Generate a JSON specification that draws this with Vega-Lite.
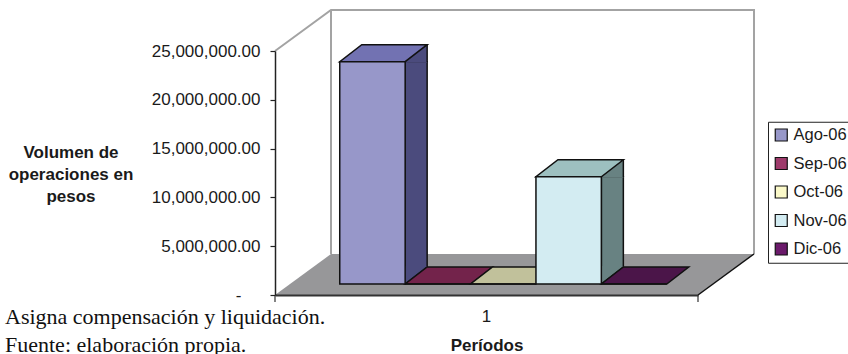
{
  "$schema": "https://vega.github.io/schema/vega-lite/v6.json",
  "width": 423,
  "height": 244,
  "autosize": {"type": "none"},
  "padding": {"left": 275, "top": 51, "right": 150, "bottom": 59},
  "config": {"font": "Liberation Sans", "view": {"stroke": null}},
  "title": {
    "text": ["Asigna compensación y liquidación.", "Fuente: elaboración propia."],
    "orient": "bottom",
    "anchor": "start",
    "frame": "group",
    "font": "Liberation Serif",
    "fontSize": 22,
    "fontWeight": "normal",
    "color": "#111111",
    "lineHeight": 28,
    "baseline": "top",
    "dx": -270,
    "dy": -46,
    "offset": 0
  },
  "data": {
    "values": [
      {"periodo": "1", "mes": "Ago-06", "volumen": 22780000},
      {"periodo": "1", "mes": "Sep-06", "volumen": 0},
      {"periodo": "1", "mes": "Oct-06", "volumen": 0},
      {"periodo": "1", "mes": "Nov-06", "volumen": 10990000},
      {"periodo": "1", "mes": "Dic-06", "volumen": 0}
    ]
  },
  "encoding": {
    "x": {
      "field": "periodo",
      "type": "nominal",
      "title": "Períodos",
      "scale": {"paddingInner": 0, "paddingOuter": 0},
      "axis": {
        "labelAngle": 0,
        "ticks": false,
        "tickSize": 0,
        "domainColor": "#333333",
        "domainWidth": 2,
        "labelFontSize": 17,
        "labelColor": "#1a1a1a",
        "labelPadding": 13,
        "titleFontSize": 17,
        "titleFontWeight": "bold",
        "titleColor": "#1a1a1a",
        "titlePadding": 13,
        "zindex": 1
      }
    },
    "y": {
      "field": "volumen",
      "type": "quantitative",
      "scale": {"domain": [0, 25000000], "nice": false},
      "axis": {
        "values": [0, 5000000, 10000000, 15000000, 20000000, 25000000],
        "labelExpr": "datum.value == 0 ? '-' : format(datum.value, ',.2f')",
        "labelPadding": {"condition": {"test": "datum.value == 0", "value": 29}, "value": 10},
        "grid": false,
        "domainColor": "#222222",
        "domainWidth": 1.5,
        "tickColor": "#222222",
        "tickSize": 5,
        "tickWidth": 1.2,
        "labelFontSize": 17,
        "labelColor": "#1a1a1a",
        "title": ["Volumen de", "operaciones en", "pesos"],
        "titleAngle": 0,
        "titleAlign": "center",
        "titleBaseline": "middle",
        "titleX": -204.5,
        "titleY": 101,
        "titleFontSize": 17,
        "titleFontWeight": "bold",
        "titleLineHeight": 22,
        "titleColor": "#1a1a1a",
        "zindex": 1
      }
    }
  },
  "layer": [
    {
      "transform": [{"filter": "datum.mes == 'Oct-06'"}],
      "encoding": {
        "xOffset": {
          "field": "mes",
          "type": "nominal",
          "scale": {"domain": ["Ago-06", "Sep-06", "Oct-06", "Nov-06", "Dic-06"], "range": [64.75, 391.75], "paddingInner": 0, "paddingOuter": 0}
        }
      },
      "layer": [
        {
          "mark": {"type": "point", "shape": "M-228.25,0L-172.25,-41L250.75,-41L250.75,203M-172.25,-41L-172.25,203", "size": 4, "filled": false, "opacity": 1, "stroke": "#a3a3a3", "strokeWidth": 2},
          "encoding": {"y": {"datum": 25000000}}
        },
        {
          "mark": {"type": "point", "shape": "M-228.25,0L194.75,0L250.75,-41L-172.25,-41Z", "size": 4, "filled": true, "opacity": 1, "fill": "#979799", "strokeWidth": 0},
          "encoding": {"y": {"datum": 0}}
        },
        {
          "mark": {"type": "point", "shape": "M194.75,0L250.75,-41", "size": 4, "filled": false, "opacity": 1, "stroke": "#111111", "strokeWidth": 1.5},
          "encoding": {"y": {"datum": 0}}
        },
        {
          "mark": {"type": "point", "shape": "M-228.25,0L-228.25,7M194.75,0L194.75,7", "size": 4, "filled": false, "opacity": 1, "stroke": "#333333", "strokeWidth": 1.2},
          "encoding": {"y": {"datum": 0}}
        }
      ]
    },
    {
      "transform": [{"filter": "datum.volumen > 0"}],
      "encoding": {
        "xOffset": {
          "field": "mes",
          "type": "nominal",
          "scale": {"domain": ["Ago-06", "Sep-06", "Oct-06", "Nov-06", "Dic-06"], "range": [108.45, 435.45], "paddingInner": 0, "paddingOuter": 0}
        },
        "fill": {
          "field": "mes",
          "type": "nominal",
          "scale": {"domain": ["Ago-06", "Sep-06", "Oct-06", "Nov-06", "Dic-06"], "range": ["#4b4b7d", "#5a1a3a", "#8f8f6f", "#688282", "#3a0a3a"]},
          "legend": null
        }
      },
      "layer": [
        {
          "mark": {"type": "bar", "width": 22, "stroke": "#111111", "strokeWidth": 1.5, "yOffset": -11, "y2Offset": -28},
          "encoding": {"y2": {"datum": 0}}
        },
        {
          "mark": {"type": "point", "shape": "M-11,0L11,-17L11,1L-11,1Z", "size": 4, "filled": true, "opacity": 1, "strokeWidth": 0, "yOffset": -11}
        },
        {
          "mark": {"type": "point", "shape": "M-11,-18L11,-18L11,-17L-11,0Z", "size": 4, "filled": true, "opacity": 1, "strokeWidth": 0, "yOffset": -11},
          "encoding": {"y": {"datum": 0}}
        },
        {
          "mark": {"type": "point", "shape": "M11,-17L11,0.5", "size": 4, "filled": false, "opacity": 1, "stroke": "#111111", "strokeWidth": 1.5, "yOffset": -11}
        },
        {
          "mark": {"type": "point", "shape": "M-11,0L11,-17", "size": 4, "filled": false, "opacity": 1, "stroke": "#111111", "strokeWidth": 1.5, "yOffset": -11},
          "encoding": {"y": {"datum": 0}}
        }
      ]
    },
    {
      "encoding": {
        "xOffset": {
          "field": "mes",
          "type": "nominal",
          "scale": {"domain": ["Ago-06", "Sep-06", "Oct-06", "Nov-06", "Dic-06"], "range": [64.75, 391.75], "paddingInner": 0, "paddingOuter": 0}
        }
      },
      "layer": [
        {
          "mark": {"type": "point", "shape": "M-32.7,0L32.7,0L54.7,-17L-10.7,-17Z", "size": 4, "filled": true, "opacity": 1, "stroke": "#111111", "strokeWidth": 1.5, "strokeJoin": "miter", "yOffset": -11},
          "encoding": {
            "fill": {
              "field": "mes",
              "type": "nominal",
              "scale": {"domain": ["Ago-06", "Sep-06", "Oct-06", "Nov-06", "Dic-06"], "range": ["#7272b2", "#73234b", "#c1c19b", "#9dc0c0", "#4b1549"]},
              "legend": null
            }
          }
        },
        {
          "mark": {"type": "bar", "stroke": "#111111", "strokeWidth": 1.5, "yOffset": -11, "y2Offset": -11},
          "encoding": {
            "color": {
              "field": "mes",
              "type": "nominal",
              "scale": {"domain": ["Ago-06", "Sep-06", "Oct-06", "Nov-06", "Dic-06"], "range": ["#9797c9", "#9e3a6b", "#fbf9c9", "#d3ecf2", "#6b1a6b"]},
              "legend": {
                "title": null,
                "orient": "none",
                "legendX": 493,
                "legendY": 70.75,
                "direction": "vertical",
                "symbolType": "square",
                "symbolSize": 144,
                "symbolStrokeColor": "#111111",
                "symbolStrokeWidth": 1.2,
                "labelFontSize": 16.5,
                "labelColor": "#1a1a1a",
                "labelOffset": 4,
                "rowPadding": 10.5,
                "padding": 5,
                "strokeColor": "#222222",
                "fillColor": "white"
              }
            }
          }
        }
      ],
      "resolve": {"scale": {"fill": "independent"}}
    }
  ],
  "resolve": {"scale": {"fill": "independent", "xOffset": "independent"}}
}
